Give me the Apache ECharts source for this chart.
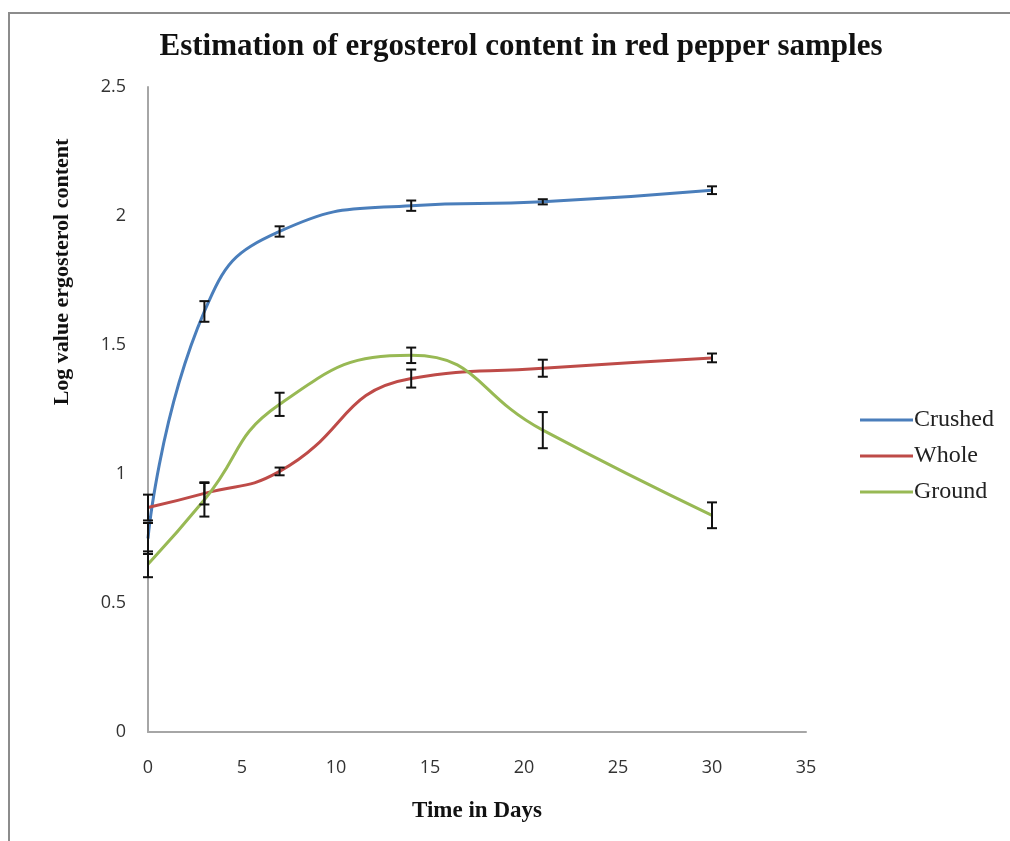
<!DOCTYPE html>
<html>
<head>
<meta charset="utf-8">
<script src="https://cdn.jsdelivr.net/npm/echarts@6/dist/echarts.min.js"></script>
<style>
  html, body { margin: 0; padding: 0; background: #fff; }
  #chart { width: 1010px; height: 841px; }
</style>
</head>
<body>
<div id="chart"></div>
<script>
// days on x axis
const days = [0, 3, 7, 14, 21, 30]

// log ergosterol values
const crushed = [0.75, 1.63, 1.94, 2.04, 2.055, 2.10]
const whole = [0.87, 0.925, 1.01, 1.37, 1.41, 1.45]
const ground = [0.65, 0.90, 1.27, 1.46, 1.17, 0.84]

// half-length of each error bar
const crushedErr = [0.06, 0.04, 0.02, 0.02, 0.01, 0.015]
const wholeErr = [0.05, 0.043, 0.015, 0.035, 0.033, 0.017]
const groundErr = [0.05, 0.065, 0.045, 0.03, 0.07, 0.05]

const xTicks = [0, 35, 5]   // min, max, interval
const yTicks = [0, 2.5, 0.5]

const colors = { Crushed: '#4a7ebb', Whole: '#be4b48', Ground: '#98b954' }
const serif = '"Liberation Serif", "DejaVu Serif", serif'
const sans = '"Open Sans", "DejaVu Sans", sans-serif'

const chart = echarts.init(document.getElementById('chart'))

function pairs(vals) {
  return days.map((d, i) => [d, vals[i]])
}

// custom series: vertical bar with caps at each point
function errSeries(name, vals, errs) {
  return {
    name: name + ' err',
    type: 'custom',
    z: 5,
    silent: true,
    data: days.map((d, i) => [d, vals[i] - errs[i], vals[i] + errs[i]]),
    renderItem: (params, api) => {
      const lo = api.coord([api.value(0), api.value(1)])
      const hi = api.coord([api.value(0), api.value(2)])
      const w = 5
      const style = { stroke: '#111', lineWidth: 2 }
      return {
        type: 'group',
        children: [
          { type: 'line', shape: { x1: lo[0], y1: lo[1], x2: hi[0], y2: hi[1] }, style },
          { type: 'line', shape: { x1: lo[0] - w, y1: lo[1], x2: lo[0] + w, y2: lo[1] }, style },
          { type: 'line', shape: { x1: hi[0] - w, y1: hi[1], x2: hi[0] + w, y2: hi[1] }, style }
        ]
      }
    }
  }
}

function lineSeries(name, vals) {
  return {
    name,
    type: 'line',
    data: pairs(vals),
    smooth: 0.5,
    symbol: 'none',
    z: 3,
    lineStyle: { color: colors[name], width: 3 },
    itemStyle: { color: colors[name] }
  }
}

const option = {
  backgroundColor: '#fff',
  animation: false,
  title: {
    text: 'Estimation of ergosterol content in red pepper samples',
    left: 516, top: 26, textAlign: 'center',
    textStyle: { fontFamily: serif, fontSize: 31, fontWeight: 'bold', color: '#111' }
  },
  legend: {
    orient: 'vertical',
    left: 855, top: 403,
    itemWidth: 53, itemHeight: 3, itemGap: 12,
    icon: 'rect',
    data: ['Crushed', 'Whole', 'Ground'],
    textStyle: { fontFamily: serif, fontSize: 24, color: '#222', padding: [0, 0, 0, -4] }
  },
  grid: { left: 148, right: 204, top: 87, bottom: 109 },
  xAxis: {
    type: 'value',
    min: xTicks[0], max: xTicks[1], interval: xTicks[2],
    name: 'Time in Days',
    nameLocation: 'middle', nameGap: 68,
    nameTextStyle: { fontFamily: serif, fontSize: 23, fontWeight: 'bold', color: '#111' },
    axisLine: { lineStyle: { color: '#a6a6a6', width: 2 } },
    axisTick: { show: false },
    splitLine: { show: false },
    axisLabel: { fontFamily: sans, fontSize: 18, color: '#333', margin: 27 }
  },
  yAxis: {
    type: 'value',
    min: yTicks[0], max: yTicks[1], interval: yTicks[2],
    axisLine: { show: true, lineStyle: { color: '#a6a6a6', width: 2 } },
    axisTick: { show: false },
    splitLine: { show: false },
    axisLabel: { fontFamily: sans, fontSize: 18, color: '#333', margin: 22 }
  },
  graphic: [
    {
      type: 'rect', silent: true, z: -1,
      shape: { x: 9, y: 13, width: 1100, height: 900 },
      style: { fill: 'none', stroke: '#8c8c8c', lineWidth: 2 }
    },
    {
      type: 'text', x: 62, y: 272, rotation: Math.PI / 2,
      style: {
        text: 'Log value ergosterol content',
        fontFamily: serif, fontSize: 22, fontWeight: 'bold', fill: '#111',
        align: 'center', verticalAlign: 'middle'
      }
    }
  ],
  series: [
    lineSeries('Crushed', crushed),
    lineSeries('Whole', whole),
    lineSeries('Ground', ground),
    errSeries('Crushed', crushed, crushedErr),
    errSeries('Whole', whole, wholeErr),
    errSeries('Ground', ground, groundErr)
  ]
}

chart.setOption(option)
</script>
</body>
</html>
